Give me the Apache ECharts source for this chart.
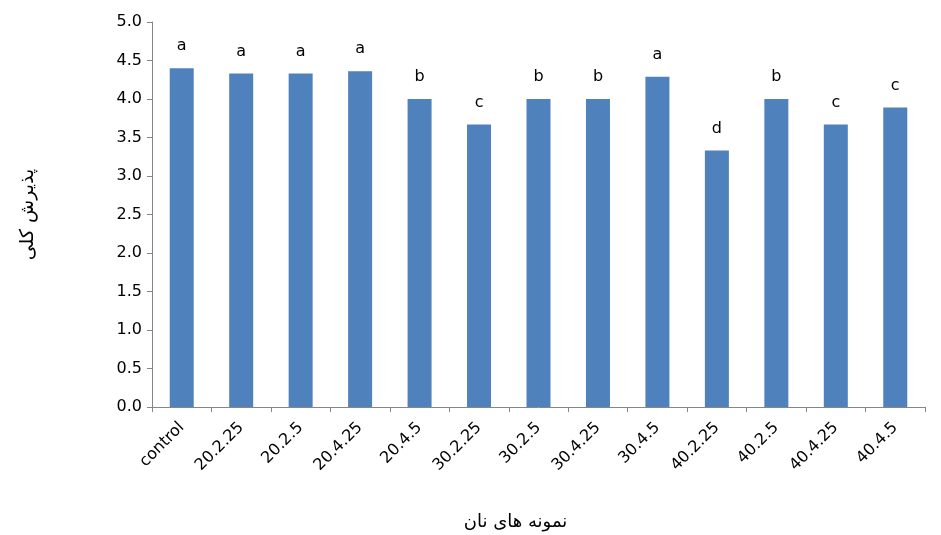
<!DOCTYPE html>
<html><head><meta charset="utf-8">
<script src="https://cdn.jsdelivr.net/npm/echarts@6/dist/echarts.min.js"></script>
<style>html,body{margin:0;padding:0;background:#fff}#c{width:941px;height:535px}</style>
</head><body><div id="c"></div>
<script>
var categories = ['control','20.2.25','20.2.5','20.4.25','20.4.5','30.2.25','30.2.5','30.4.25','30.4.5','40.2.25','40.2.5','40.4.25','40.4.5'];
var values = [4.40, 4.33, 4.33, 4.36, 4.00, 3.67, 4.00, 4.00, 4.29, 3.33, 4.00, 3.67, 3.89];
var letters = ['a','a','a','a','b','c','b','b','a','d','b','c','c'];
var yTicks = {min: 0, max: 5, interval: 0.5};
var xTitle = 'نمونه های نان';
var yTitle = 'پذیرش کلی';

var chart = echarts.init(document.getElementById('c'));
chart.setOption({
  animation: false,
  backgroundColor: '#fff',
  grid: {left: 152, right: 16, top: 22, bottom: 128, containLabel: false, outerBoundsMode: 'none'},
  xAxis: {
    type: 'category', data: categories,
    axisLine: {lineStyle: {color: '#868686'}},
    axisTick: {show: true, alignWithLabel: false, length: 5, lineStyle: {color: '#868686'}},
    axisLabel: {rotate: 45, color: '#000', fontSize: 16, fontFamily: 'DejaVu Sans', margin: 18, interval: 0},
    name: xTitle, nameLocation: 'middle', nameGap: 106,
    nameTextStyle: {color: '#000', fontSize: 18, fontFamily: 'DejaVu Sans', padding: [0, 46, 0, 0]}
  },
  yAxis: {
    type: 'value', min: yTicks.min, max: yTicks.max, interval: yTicks.interval,
    splitLine: {show: false},
    axisLine: {show: true, lineStyle: {color: '#868686'}},
    axisTick: {show: true, length: 5, lineStyle: {color: '#868686'}},
    axisLabel: {color: '#000', fontSize: 16, fontFamily: 'DejaVu Sans', margin: 10,
      formatter: function(v){return v.toFixed(1);}},
    name: yTitle, nameLocation: 'middle', nameGap: 114, nameRotate: 90,
    nameTextStyle: {color: '#000', fontSize: 19, fontFamily: 'DejaVu Sans'}
  },
  series: [{
    type: 'bar', data: values, barWidth: 24,
    itemStyle: {color: '#4F81BD'},
    label: {show: true, position: 'top', distance: 14, color: '#000', fontSize: 16, fontFamily: 'DejaVu Sans',
      formatter: function(p){return letters[p.dataIndex];}}
  }]
});
</script></body></html>
